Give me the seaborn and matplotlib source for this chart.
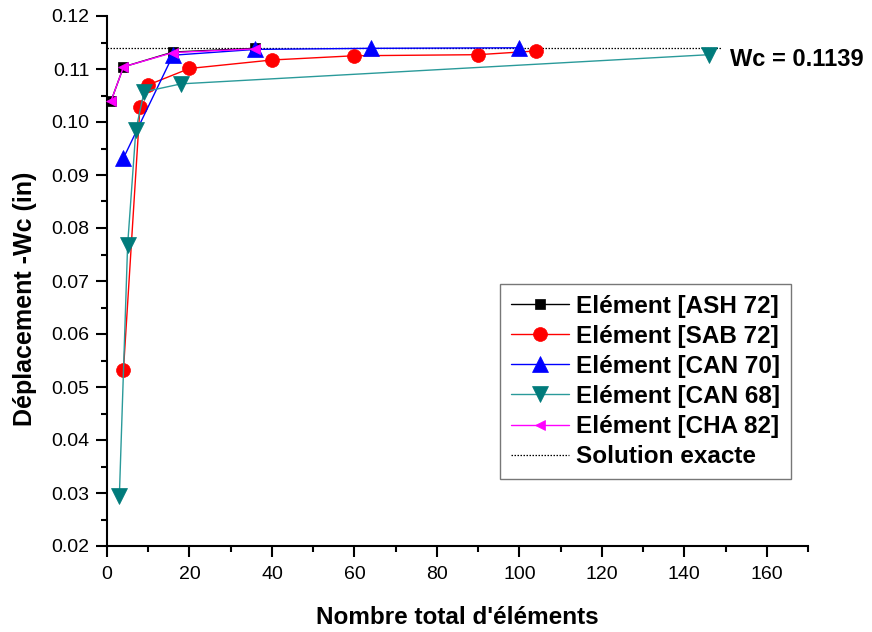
import matplotlib
matplotlib.use("Agg")
import matplotlib.pyplot as plt
import seaborn as sns
import pandas as pd
from matplotlib.ticker import MultipleLocator, FormatStrFormatter

# ---- data ----
ash_x = [1, 4, 16, 36]
ash_w = [0.1040, 0.1104, 0.1132, 0.1139]

sab_x = [4, 8, 10, 20, 40, 60, 90, 104]
sab_w = [0.0533, 0.1029, 0.1070, 0.1101, 0.1117, 0.1125, 0.1127, 0.1134]

can70_x = [4, 16, 36, 64, 100]
can70_w = [0.0932, 0.1126, 0.1137, 0.1139, 0.1140]

can68_x = [3, 5, 7, 9, 18, 146]
can68_w = [0.0295, 0.0768, 0.0985, 0.1057, 0.1072, 0.1127]

cha_x = [1, 4, 16, 36]
cha_w = [0.1040, 0.1104, 0.1131, 0.1138]

exact_x = [0, 149]
exact_w = 0.1139

labels = ["Elément [ASH 72]", "Elément [SAB 72]", "Elément [CAN 70]",
          "Elément [CAN 68]", "Elément [CHA 82]", "Solution exacte"]

sns.set_theme(style="white")
plt.rcParams['font.family'] = ['Liberation Sans', 'DejaVu Sans']
plt.rcParams['text.color'] = 'black'
plt.rcParams['axes.labelcolor'] = 'black'

fig = plt.figure(figsize=(8.72, 6.32), dpi=100)
ax = fig.add_axes([107/872, 1-546/632, (808-107)/872, (546-16)/632])

series = [
    (ash_x, ash_w, "black", "black", "s", 6.5),
    (sab_x, sab_w, "red", "red", "o", 10),
    (can70_x, can70_w, "blue", "blue", "^", 11),
    (can68_x, can68_w, "#2a9a9a", "#007b7b", "v", 11),
    (cha_x, cha_w, "magenta", "magenta", "<", 7),
]
for (xs, ws, lc, mc, mk, ms), lab in zip(series, labels):
    df = pd.DataFrame({"x": xs, "w": ws})
    sns.lineplot(data=df, x="x", y="w", ax=ax, sort=False, estimator=None,
                 color=lc, linewidth=1.0, marker=mk, markersize=ms,
                 markerfacecolor=mc, markeredgecolor=mc, markeredgewidth=0.5,
                 label=lab, clip_on=False, zorder=3)

dfe = pd.DataFrame({"x": exact_x, "w": [exact_w] * len(exact_x)})
sns.lineplot(data=dfe, x="x", y="w", ax=ax, color="black", linewidth=0.9,
             linestyle=(0, (1.2, 1.2)), label=labels[5], zorder=2)

ax.text(151, 0.1117, "Wc = 0.1139", fontsize=17, fontweight="bold",
        ha="left", va="center", clip_on=False)

ax.set_xlim(0, 170)
ax.set_ylim(0.02, 0.12)
ax.xaxis.set_major_locator(MultipleLocator(20))
ax.xaxis.set_minor_locator(MultipleLocator(10))
ax.yaxis.set_major_locator(MultipleLocator(0.01))
ax.yaxis.set_minor_locator(MultipleLocator(0.005))
ax.yaxis.set_major_formatter(FormatStrFormatter("%.2f"))
ax.tick_params(which="major", direction="out", length=7.7, width=1.5,
               labelsize=14, color="black", labelcolor="black",
               left=True, bottom=True)
ax.tick_params(axis="x", which="major", pad=7)
ax.tick_params(axis="y", which="major", pad=5)
ax.tick_params(which="minor", direction="out", length=4, width=1.5,
               color="black", left=True, bottom=True)
for s in ["top", "right"]:
    ax.spines[s].set_visible(False)
for s in ["left", "bottom"]:
    ax.spines[s].set_linewidth(1.5)
    ax.spines[s].set_color("black")

ax.set_xlabel("Nombre total d'éléments", fontsize=17.5, fontweight="bold", labelpad=16.5)
ax.set_ylabel("Déplacement -Wc (in)", fontsize=18, fontweight="bold")
ax.yaxis.set_label_coords((37 - 107) / 701, (546 - 299) / 530)

leg = ax.legend(loc="lower right", bbox_to_anchor=((791-107)/701, (546-479)/530),
                borderaxespad=0, prop={"weight": "bold", "size": 17.5},
                handlelength=2.39, handletextpad=0.29, labelspacing=0.29,
                frameon=True, fancybox=False, borderpad=0.45)
leg.get_frame().set_edgecolor("#555555")
leg.get_frame().set_linewidth(1.0)

fig.savefig("out.png", dpi=100)
